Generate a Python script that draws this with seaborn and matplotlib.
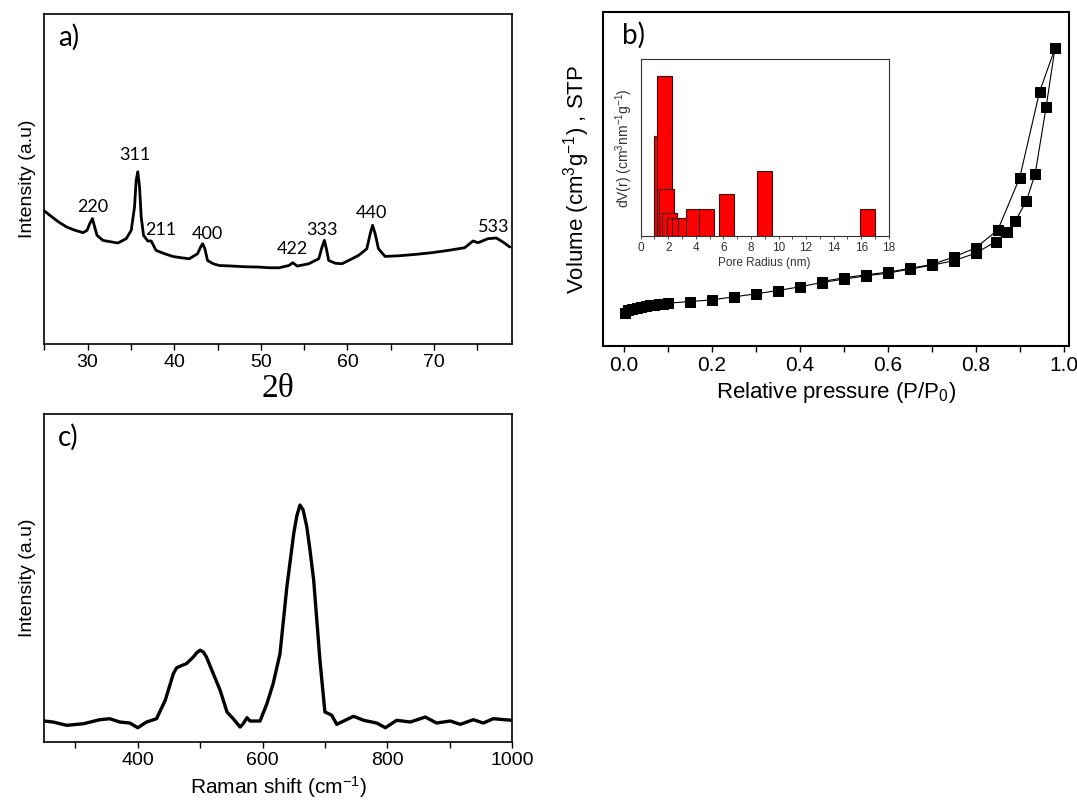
import matplotlib
matplotlib.use("Agg")
import numpy as np
import pandas as pd
import matplotlib.pyplot as plt
import seaborn as sns
from matplotlib.ticker import MultipleLocator

# ---------------- data ----------------
# a) XRD pattern
xrd_2theta = [25.0, 25.65, 26.6, 27.57, 28.5, 29.48, 29.94, 30.25, 30.56, 30.82, 31.09, 31.78,
              32.6, 33.5, 34.46, 35.04, 35.42, 35.61, 35.8, 36.0, 36.19, 36.46, 36.95, 37.34,
              37.91, 38.9, 39.83, 40.8, 41.74, 42.7, 43.05, 43.28, 43.54, 43.85, 44.5, 45.19,
              46.72, 48.2, 49.79, 51.0, 52.09, 53.24, 53.7, 54.2, 55.54, 56.69, 57.07, 57.34,
              57.57, 57.84, 58.6, 59.37, 60.3, 61.28, 62.24, 62.63, 62.9, 63.2, 63.58, 64.35,
              66.0, 67.8, 69.7, 71.63, 73.54, 74.5, 75.08, 76.23, 77.18, 77.95, 78.75]
xrd_intensity = [132.7, 128.3, 122.0, 116.7, 113.5, 111.0, 113.3, 120.0, 125.0, 116.7, 108.3,
                 103.3, 102.0, 100.7, 105.0, 113.3, 136.7, 163.3, 171.7, 156.7, 126.7, 108.3,
                 102.7, 102.7, 93.3, 90.0, 87.3, 86.0, 85.0, 90.0, 96.7, 100.0, 95.0, 83.3, 80.0,
                 78.3, 77.7, 77.0, 76.7, 76.0, 76.0, 78.3, 81.0, 77.7, 80.0, 85.0, 96.7, 103.3,
                 95.0, 83.3, 80.5, 80.0, 84.0, 88.3, 95.0, 110.0, 118.3, 110.0, 95.0, 87.3, 88.0,
                 89.3, 91.0, 93.3, 96.0, 102.7, 101.0, 105.0, 105.7, 101.7, 96.7]
peak_labels = ["220", "311", "211", "400", "422", "333", "440", "533"]
peak_label_x = [30.6, 35.5, 38.5, 43.85, 53.6, 57.1, 62.8, 76.9]
peak_label_y = [137, 188, 114, 110, 95, 114, 131, 117]

# b) N2 isotherm
p_ads = [0.003, 0.01, 0.02, 0.03, 0.04, 0.05, 0.06, 0.07, 0.08, 0.09, 0.10, 0.15, 0.20, 0.25,
         0.30, 0.35, 0.40, 0.45, 0.50, 0.55, 0.60, 0.65, 0.70, 0.75, 0.80, 0.845, 0.87, 0.89,
         0.915, 0.935, 0.96, 0.98]
v_ads = [10.0, 10.8, 11.2, 11.5, 11.8, 12.0, 12.2, 12.4, 12.5, 12.7, 12.8, 13.3, 13.8, 14.7,
         15.6, 16.6, 17.7, 19.0, 20.0, 21.0, 21.8, 23.0, 24.2, 25.5, 27.8, 31.2, 34.0, 37.4,
         43.4, 51.5, 71.6, 89.1]
p_des = [0.98, 0.945, 0.90, 0.85, 0.80, 0.75, 0.70, 0.65, 0.60, 0.55, 0.50, 0.45]
v_des = [89.1, 76.1, 50.4, 34.7, 29.4, 26.6, 24.4, 23.2, 22.1, 21.3, 20.4, 19.3]

# b) inset: pore size distribution
pore_radius = [1.49, 1.70, 1.89, 2.11, 2.43, 2.79, 3.27, 3.83, 4.79, 6.20, 8.98, 16.44]
dv_r = [0.568, 0.908, 0.266, 0.130, 0.100, 0.100, 0.100, 0.150, 0.155, 0.240, 0.366, 0.155]

# c) Raman spectrum
raman_shift = [250, 264, 286, 313, 339, 355, 371, 387, 400, 414, 430, 444, 457, 462, 470, 478,
               489, 495, 500, 505, 510, 521, 532, 543, 553, 564, 569, 575, 580, 596, 607, 617,
               628, 639, 645, 650, 655, 660, 665, 671, 676, 682, 687, 692, 700, 706, 711, 719,
               730, 746, 762, 783, 797, 815, 837, 861, 879, 901, 917, 938, 954, 970, 1000]
raman_intensity = [21.0, 20.0, 16.7, 18.3, 22.3, 23.3, 20.0, 19.0, 14.3, 20.0, 23.3, 41.7, 68.3,
                   74.0, 76.3, 78.3, 85.0, 89.5, 91.7, 90.0, 85.0, 68.3, 51.7, 30.0, 23.3, 15.0,
                   18.3, 24.3, 21.0, 21.0, 38.3, 58.3, 88.3, 155.0, 184.0, 208.3, 226.0, 236.7,
                   232.0, 215.0, 192.0, 161.7, 122.0, 81.7, 30.0, 28.3, 26.7, 17.7, 21.0, 25.7,
                   21.7, 19.0, 14.3, 21.7, 20.0, 25.0, 19.0, 21.0, 17.7, 22.3, 19.0, 23.3, 21.7]

# ---------------- style ----------------
sns.set_theme(style="white")
plt.rcParams['font.family'] = ['Liberation Sans', 'DejaVu Sans']
plt.rcParams['mathtext.fontset'] = 'custom'
plt.rcParams['mathtext.rm'] = 'Liberation Sans'
plt.rcParams['mathtext.it'] = 'Liberation Sans:italic'
plt.rcParams['axes.edgecolor'] = 'black'
plt.rcParams['axes.linewidth'] = 1.2
plt.rcParams['text.color'] = 'black'
plt.rcParams['axes.labelcolor'] = 'black'
plt.rcParams['xtick.color'] = 'black'
plt.rcParams['ytick.color'] = 'black'

fig = plt.figure(figsize=(10.77, 8.07), dpi=100)

def style_axes(ax, lw=1.2):
    for s in ax.spines.values():
        s.set_visible(True)
        s.set_color('black')
        s.set_linewidth(lw)
    ax.set_yticks([])
    ax.tick_params(axis='x', which='both', bottom=True, direction='out',
                   length=4, width=1.0, color='black')

# ---- a) XRD ----
ax_a = fig.add_axes([0.0411, 0.5737, 0.4343, 0.409])
df_a = pd.DataFrame({"two_theta": xrd_2theta, "intensity": xrd_intensity})
sns.lineplot(data=df_a, x="two_theta", y="intensity", ax=ax_a, color='black',
             lw=2.0, sort=False)
ax_a.set_xlim(25, 79)
ax_a.set_ylim(0, 329)
style_axes(ax_a)
ax_a.xaxis.set_major_locator(MultipleLocator(10))
ax_a.xaxis.set_minor_locator(MultipleLocator(5))
ax_a.tick_params(axis='x', labelsize=14, pad=3)
ax_a.set_xlabel("2θ", fontsize=24, family=['Liberation Serif'], labelpad=2)
ax_a.set_ylabel("Intensity (a.u)", fontsize=14, labelpad=6)
for lab, lx, ly in zip(peak_labels, peak_label_x, peak_label_y):
    ax_a.text(lx, ly, lab, ha='center', va='center', fontsize=13, family=['Lato'])
ax_a.text(0.03, 0.93, "a)", transform=ax_a.transAxes, fontsize=20, family=['Lato'],
          ha='left', va='center')

# ---- b) isotherm ----
ax_b = fig.add_axes([0.5599, 0.5713, 0.4327, 0.4138])
sns.lineplot(x=p_ads, y=v_ads, ax=ax_b, color='black', lw=0.8, marker='s',
             markersize=6.5, markeredgecolor='black', sort=False)
sns.lineplot(x=p_des, y=v_des, ax=ax_b, color='black', lw=0.8, marker='s',
             markersize=6.5, markeredgecolor='black', sort=False)
ax_b.set_xlim(-0.047, 1.012)
ax_b.set_ylim(0, 100)
style_axes(ax_b, lw=1.5)
ax_b.xaxis.set_minor_locator(MultipleLocator(0.1))
ax_b.set_xticks([0.0, 0.2, 0.4, 0.6, 0.8, 1.0])
ax_b.set_xticklabels(["0.0", "0.2", "0.4", "0.6", "0.8", "1.0"])
ax_b.tick_params(axis='x', labelsize=15, pad=3)
ax_b.set_xlabel("Relative pressure (P/P$\\mathregular{_0}$)", fontsize=16, labelpad=4)
ax_b.set_ylabel("Volume (cm$\\mathregular{^3}$g$\\mathregular{^{-1}}$) , STP", fontsize=16,
                labelpad=8)
ax_b.text(0.04, 0.93, "b)", transform=ax_b.transAxes, fontsize=20, family=['Lato'],
          ha='left', va='center')

# ---- b) inset ----
ax_in = fig.add_axes([0.5949, 0.7076, 0.2303, 0.2189])
ax_in.bar(pore_radius, dv_r, width=1.08, color='#ff0000', edgecolor='#3a1010', linewidth=0.8)
ax_in.set_xlim(0, 18)
ax_in.set_ylim(0, 1.0)
for s in ax_in.spines.values():
    s.set_visible(True)
    s.set_color('#333333')
    s.set_linewidth(0.8)
ax_in.set_yticks([])
ax_in.xaxis.set_major_locator(MultipleLocator(2))
ax_in.xaxis.set_minor_locator(MultipleLocator(1))
ax_in.tick_params(axis='x', which='both', bottom=True, direction='out', length=2.5,
                  width=0.6, color='#333333', labelsize=8.5, labelcolor='#333333', pad=2)
ax_in.set_xlabel("Pore Radius (nm)", fontsize=8.5, color='#333333', labelpad=2)
ax_in.set_ylabel("dV(r) (cm$\\mathregular{^3}$nm$\\mathregular{^{-1}}$g$\\mathregular{^{-1}}$)",
                 fontsize=10, color='#333333', labelpad=4)

# ---- c) Raman ----
ax_c = fig.add_axes([0.0411, 0.0805, 0.4343, 0.4065])
df_c = pd.DataFrame({"shift": raman_shift, "intensity": raman_intensity})
sns.lineplot(data=df_c, x="shift", y="intensity", ax=ax_c, color='black', lw=2.4, sort=False)
ax_c.set_xlim(250, 1000)
ax_c.set_ylim(0, 327.7)
style_axes(ax_c)
ax_c.xaxis.set_major_locator(MultipleLocator(200))
ax_c.xaxis.set_minor_locator(MultipleLocator(100))
ax_c.tick_params(axis='x', labelsize=14, pad=3)
ax_c.set_xlabel("Raman shift (cm$\\mathregular{^{-1}}$)", fontsize=15, labelpad=4)
ax_c.set_ylabel("Intensity (a.u)", fontsize=14, labelpad=6)
ax_c.text(0.03, 0.93, "c)", transform=ax_c.transAxes, fontsize=20, family=['Lato'],
          ha='left', va='center')

fig.savefig("out.png", dpi=100)
